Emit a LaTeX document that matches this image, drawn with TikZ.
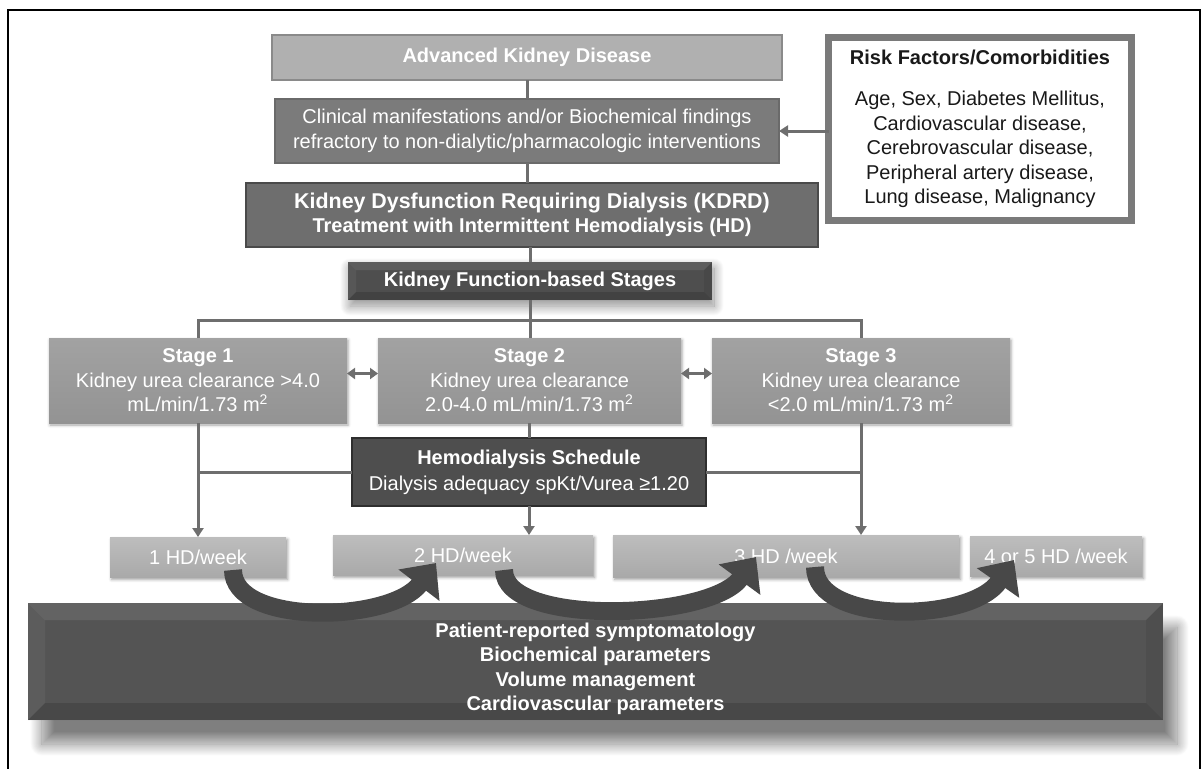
\documentclass[tikz,border=0pt]{standalone}
\usepackage{fontspec}
\setmainfont{Liberation Sans}
\usepackage{tikz}
\usetikzlibrary{arrows.meta, calc, positioning, shadows, shadows.blur}
\definecolor{AdvFill}{HTML}{B0B0B0}
\definecolor{AdvLine}{HTML}{8A8A8A}
\definecolor{MidFill}{HTML}{7B7B7B}
\definecolor{MidLine}{HTML}{6A6A6A}
\definecolor{KdrdFill}{HTML}{6E6E6E}
\definecolor{KdrdLine}{HTML}{4A4A4A}
\definecolor{DarkFill}{HTML}{4E4E4E}
\definecolor{DarkLine}{HTML}{2E2E2E}
\definecolor{StageTop}{HTML}{A2A2A2}
\definecolor{StageBot}{HTML}{939393}
\definecolor{WeekTop}{HTML}{BDBDBD}
\definecolor{WeekBot}{HTML}{A9A9A9}
\definecolor{LinkGrey}{HTML}{6E6E6E}
\definecolor{RiskLine}{HTML}{7A7A7A}
\definecolor{PanelFill}{HTML}{545454}
\definecolor{BigArrow}{HTML}{484848}
\tikzset{
  >=latex,
  % caselle
  base/.style={inner sep=0pt,outer sep=0pt,align=center,text=white,font=\fontsize{10}{12.25}\selectfont},
  box light/.style={base,fill=AdvFill,draw=AdvLine,line width=1.2pt},
  box mid/.style={base,fill=MidFill,draw=MidLine,line width=0.6pt},
  box kdrd/.style={base,fill=KdrdFill,draw=KdrdLine,line width=1pt},
  box dark/.style={base,fill=DarkFill,blur shadow={shadow xshift=1pt,shadow yshift=-3pt,shadow blur radius=5pt,shadow blur steps=25,shadow opacity=45}},
  box sched/.style={base,fill=DarkFill,draw=DarkLine,line width=0.8pt},
  box risk/.style={base,text=black!90,fill=white,draw=RiskLine,line width=3.5pt},
  stagebox/.style={base,top color=StageTop,bottom color=StageBot,minimum height=42.5pt,
    blur shadow={shadow xshift=0.5pt,shadow yshift=-1pt,shadow blur radius=1.5pt,shadow opacity=35}},
  weekbox/.style={base,top color=WeekTop,bottom color=WeekBot,minimum height=20pt,
    blur shadow={shadow xshift=0.8pt,shadow yshift=-1.2pt,shadow blur radius=1.5pt,shadow opacity=40}},
  panel/.style={base,fill=PanelFill,
    blur shadow={shadow xshift=7pt,shadow yshift=-12pt,shadow blur radius=6pt,shadow blur steps=40,shadow opacity=50}},
  % connessioni
  link/.style={draw=LinkGrey,line width=1.5pt},
  link arrow/.style={link,-{Triangle[width=5.5pt,length=4.5pt]}},
  link both/.style={link,{Triangle[width=5.5pt,length=4pt]}-{Triangle[width=5.5pt,length=4pt]}},
  big arrow/.style={draw=BigArrow,line width=9pt,-{Triangle[width=25pt,length=14pt]}}
}
% bordo smussato di una casella
\newcommand{\bevel}[2]{%
  \fill[white,opacity=.09] (#1.north west) -- (#1.north east) -- ($(#1.north east)+(-#2,#2)$) -- ($(#1.north west)+(#2,#2)$) -- cycle;
  \fill[white,opacity=.05] (#1.north west) -- ($(#1.north west)+(#2,#2)$) -- ($(#1.south west)+(#2,-#2)$) -- (#1.south west) -- cycle;
  \fill[black,opacity=.14] (#1.south west) -- ($(#1.south west)+(#2,-#2)$) -- ($(#1.south east)+(-#2,-#2)$) -- (#1.south east) -- cycle;
  \fill[black,opacity=.07] (#1.north east) -- ($(#1.north east)+(-#2,#2)$) -- ($(#1.south east)+(-#2,-#2)$) -- (#1.south east) -- cycle;
}

\begin{document}
\begin{tikzpicture}[x=0.5pt,y=-0.5pt]
  \useasboundingbox (0,0) rectangle (1202,768);
  \draw[line width=1pt] (8,10) rectangle (1200,790);

  % colonna centrale
  \node[box light,minimum width=255pt,minimum height=22.5pt] (adv) at (527,57.5) {\bfseries Advanced Kidney Disease};
  \node[box mid,minimum width=252pt,minimum height=32pt] (clin) at (527,131)
    {Clinical manifestations and/or Biochemical findings\\refractory to non-dialytic/pharmacologic interventions};
  \node[box kdrd,minimum width=286pt,minimum height=32pt] (kdrd) at (532,215)
    {{\fontsize{10.7}{13}\selectfont\bfseries Kidney Dysfunction Requiring Dialysis (KDRD)}\\{\bfseries Treatment with Intermittent Hemodialysis (HD)}};
  \node[box dark,minimum width=182pt,minimum height=19pt] (stages) at (530,281) {};
  \bevel{stages}{8}
  \node[base] (stagestxt) at (stages.center) {\bfseries Kidney Function-based Stages};

  % fattori di rischio
  \node[box risk,minimum width=151.5pt,minimum height=91.5pt] (risk) at (980,129)
    {\textbf{Risk Factors/Comorbidities}\\[8.25pt]Age, Sex, Diabetes Mellitus,\\Cardiovascular disease,\\Cerebrovascular disease,\\Peripheral artery disease,\\Lung disease, Malignancy};

  % stadi
  \node[stagebox,minimum width=149pt] (st1) at (198,380.5) {\textbf{Stage 1}\\Kidney urea clearance >4.0\\mL/min/1.73 m\textsuperscript{2}};
  \node[stagebox,minimum width=151.5pt] (st2) at (529.5,380.5) {\textbf{Stage 2}\\Kidney urea clearance\\2.0-4.0 mL/min/1.73 m\textsuperscript{2}};
  \node[stagebox,minimum width=149pt] (st3) at (861,380.5) {\textbf{Stage 3}\\Kidney urea clearance\\<2.0 mL/min/1.73 m\textsuperscript{2}};

  \node[box sched,minimum width=177pt,minimum height=34pt] (sched) at (529,472)
    {\textbf{Hemodialysis Schedule}\\[0.75pt]Dialysis adequacy spKt/Vurea ≥1.20};

  % sedute settimanali
  \node[weekbox,minimum width=88pt] (hd1) at (198,557) {1 HD/week};
  \node[weekbox,minimum width=130pt] (hd2) at (463,555) {2 HD/week};
  \node[weekbox,minimum width=173pt,minimum height=21pt] (hd3) at (786,556) {3 HD /week};
  \node[weekbox,minimum width=86pt] (hd4) at (1056,556) {4 or 5 HD /week};

  \node[panel,minimum width=567.5pt,minimum height=58.5pt] (panel) at (595.5,661.5) {};
  \bevel{panel}{17}
  \node[base] (paneltxt) at ($(panel.center)+(0,7.5)$)
    {\bfseries Patient-reported symptomatology\\\bfseries Biochemical parameters\\\bfseries Volume management\\\bfseries Cardiovascular parameters};

  % collegamenti
  \draw[link] (adv) -- (clin);
  \draw[link] (clin.south) -- (clin.south |- kdrd.north);
  \draw[link] (stages.north |- kdrd.south) -- (stages.north);
  \draw[link arrow] (risk.west |- clin.east) -- (clin.east);
  \coordinate (bus) at (530,320);
  \draw[link] (st1.north) |- (bus) -| (st3.north);
  \draw[link] (stages.south) -- (stages.south |- st2.north);
  \draw[link both] ([yshift=3.5pt]st1.east) -- ([yshift=3.5pt]st2.west);
  \draw[link both] ([yshift=3.5pt]st2.east) -- ([yshift=3.5pt]st3.west);
  \draw[link arrow] (st1.south) -- (hd1.north);
  \draw[link] (st1.south |- sched.west) -- (sched.west);
  \draw[link] (st2.south) -- (st2.south |- sched.north);
  \draw[link arrow] (sched.south) -- (sched.south |- hd2.north);
  \draw[link] (sched.east) -- (st3.south |- sched.east);
  \draw[link arrow] (st3.south) -- (st3.south |- hd3.north);

  % frecce curve
  \draw[big arrow] ($(hd1.south)+(35,-7)$) .. controls +(0,56) and +(-46,60) .. ($(hd2.south)+(-27,-12)$);
  \draw[big arrow] ($(hd2.south)+(41,-5)$) .. controls +(0,57) and +(-46,63) .. ($(hd3.south)+(-30,-20)$);
  \draw[big arrow] ($(hd3.south)+(29,-10)$) .. controls +(0,58) and +(-44,63) .. ($(hd4.south)+(-42,-16)$);
\end{tikzpicture}
\end{document}
